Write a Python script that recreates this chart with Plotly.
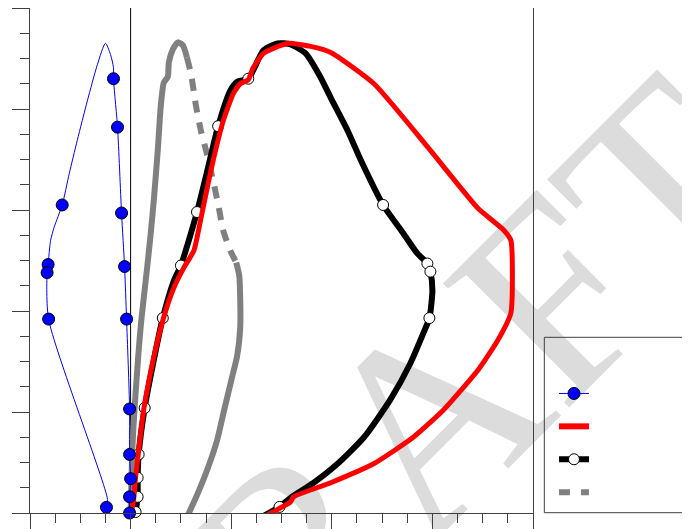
import plotly.graph_objects as go

# ---------------- data (x units, y units) ----------------
# Blue series: line path and sampled markers
blue_line_x = [-0.01, -0.01, 0.00, -0.01, -0.01, -0.04, -0.06, -0.09, -0.13, -0.17, -0.17, -0.20, -0.25,
               -0.33, -0.43, -0.53, -0.61, -0.68, -0.76, -0.795, -0.82, -0.83, -0.815, -0.23, -0.24, -0.22]
blue_line_y = [0.00, 0.16, 0.34, 0.58, 1.03, 1.92, 2.44, 2.97, 3.82, 4.30, 4.41, 4.54, 4.65,
               4.44, 4.08, 3.69, 3.36, 3.05, 2.83, 2.70, 2.46, 2.38, 1.92, 0.135, 0.056, -0.03]
blue_pts_x = [-0.01, -0.01, 0.00, -0.01, -0.01, -0.04, -0.06, -0.09, -0.13, -0.17,
              -0.68, -0.82, -0.83, -0.815, -0.24, -0.22]
blue_pts_y = [0.00, 0.16, 0.34, 0.58, 1.03, 1.92, 2.44, 2.97, 3.82, 4.30,
              3.05, 2.46, 2.38, 1.92, 0.056, -0.03]

# Red series
red_x = [0.01, 0.03, 0.05, 0.08, 0.13, 0.23, 0.33, 0.43, 0.53, 0.63, 0.70, 0.77, 0.83, 0.92, 1.02,
         1.09, 1.17, 1.22, 1.32, 1.42, 1.57, 1.79, 1.99, 2.42, 2.98, 3.45, 3.71, 3.78, 3.78, 3.65,
         3.45, 3.11, 2.81, 2.42, 1.99, 1.62, 1.59, 1.34]
red_y = [0.02, 0.13, 0.36, 0.62, 1.02, 1.54, 1.94, 2.23, 2.43, 2.60, 2.92, 3.26, 3.53, 3.88, 4.15,
         4.25, 4.29, 4.41, 4.55, 4.60, 4.65, 4.62, 4.56, 4.25, 3.59, 3.02, 2.80, 2.70, 1.98, 1.71,
         1.41, 1.02, 0.75, 0.49, 0.30, 0.16, 0.11, -0.03]

# Black series: line path and sampled markers
black_x = [0.05, 0.07, 0.07, 0.08, 0.14, 0.23, 0.32, 0.43, 0.50, 0.57, 0.66, 0.77, 0.87, 0.99, 1.06,
           1.17, 1.32, 1.46, 1.59, 1.74, 1.89, 1.99, 2.16, 2.29, 2.51, 2.71, 2.85, 2.95, 2.98, 3.00,
           2.97, 2.91, 2.78, 2.58, 2.32, 2.06, 1.82, 1.59, 1.48, 1.32]
black_y = [0.01, 0.16, 0.35, 0.58, 1.04, 1.51, 1.93, 2.30, 2.45, 2.67, 2.98, 3.42, 3.83, 4.18, 4.27,
           4.30, 4.58, 4.65, 4.64, 4.55, 4.31, 4.11, 3.78, 3.49, 3.05, 2.77, 2.57, 2.47, 2.39, 2.20,
           1.93, 1.78, 1.48, 1.12, 0.75, 0.49, 0.30, 0.15, 0.06, -0.03]
black_pts_x = [0.05, 0.07, 0.07, 0.08, 0.14, 0.32, 0.50, 0.66, 0.87, 1.17, 2.51, 2.95, 2.98, 2.97, 1.48, 1.32]
black_pts_y = [0.01, 0.16, 0.35, 0.58, 1.04, 1.93, 2.45, 2.98, 3.83, 4.30, 3.05, 2.47, 2.39, 1.93, 0.06, -0.03]

# Gray series (one path; a middle stretch is dashed)
gray_x = [0.00, 0.02, 0.05, 0.10, 0.17, 0.20, 0.23, 0.27, 0.30, 0.33, 0.37, 0.38, 0.42, 0.47, 0.52, 0.56,
          0.60, 0.65, 0.70, 0.75, 0.82, 0.87, 0.92, 0.99, 1.05,
          1.08, 1.09, 1.09, 1.06, 1.00, 0.93, 0.86, 0.77, 0.67, 0.57]
gray_y = [0.00, 0.69, 1.19, 1.84, 2.48, 2.77, 3.09, 3.59, 4.03, 4.26, 4.32, 4.46, 4.59, 4.66, 4.63, 4.51,
          4.35, 4.03, 3.78, 3.59, 3.29, 3.06, 2.80, 2.60, 2.48,
          2.35, 2.10, 1.84, 1.56, 1.31, 1.02, 0.72, 0.45, 0.20, -0.02]
gray_dash_start = 15
gray_dash_end = 24

x_range = [-1, 4]
y_range = [0, 5]

BLUE = "#0000ff"
RED = "#ff0000"
GRAY = "#808080"
AXC = "#404040"

fig = go.Figure()

# gray solid / dashed pieces
fig.add_trace(go.Scatter(x=gray_x[:gray_dash_start + 1], y=gray_y[:gray_dash_start + 1], mode="lines",
                         line=dict(color=GRAY, width=6, shape="spline", smoothing=0.6),
                         showlegend=False, hoverinfo="skip"))
fig.add_trace(go.Scatter(x=gray_x[gray_dash_start:gray_dash_end + 1], y=gray_y[gray_dash_start:gray_dash_end + 1],
                         mode="lines", line=dict(color=GRAY, width=6, shape="spline", smoothing=0.6, dash="12px,10px"),
                         showlegend=False, hoverinfo="skip"))
fig.add_trace(go.Scatter(x=gray_x[gray_dash_end:], y=gray_y[gray_dash_end:], mode="lines",
                         line=dict(color=GRAY, width=6, shape="spline", smoothing=0.6),
                         showlegend=False, hoverinfo="skip"))

# black line + white markers
fig.add_trace(go.Scatter(x=black_x, y=black_y, mode="lines",
                         line=dict(color="black", width=6, shape="spline", smoothing=0.6),
                         showlegend=False, hoverinfo="skip"))
fig.add_trace(go.Scatter(x=black_pts_x, y=black_pts_y, mode="markers", cliponaxis=False,
                         marker=dict(color="white", size=11, line=dict(color="black", width=1)),
                         showlegend=False))

# red line
fig.add_trace(go.Scatter(x=red_x, y=red_y, mode="lines",
                         line=dict(color=RED, width=5, shape="spline", smoothing=0.5),
                         showlegend=False, hoverinfo="skip"))

# blue line + markers
fig.add_trace(go.Scatter(x=blue_line_x, y=blue_line_y, mode="lines",
                         line=dict(color=BLUE, width=1, shape="spline", smoothing=0.7),
                         showlegend=False, hoverinfo="skip"))
fig.add_trace(go.Scatter(x=blue_pts_x, y=blue_pts_y, mode="markers", cliponaxis=False,
                         marker=dict(color=BLUE, size=12, line=dict(color="black", width=1)),
                         showlegend=False))

# legend entries
fig.add_trace(go.Scatter(x=[None], y=[None], mode="lines+markers", name="",
                         line=dict(color=BLUE, width=1),
                         marker=dict(color=BLUE, size=12, line=dict(color="black", width=1))))
fig.add_trace(go.Scatter(x=[None], y=[None], mode="lines", name="",
                         line=dict(color=RED, width=6)))
fig.add_trace(go.Scatter(x=[None], y=[None], mode="lines+markers", name="",
                         line=dict(color="black", width=6),
                         marker=dict(color="white", size=11, line=dict(color="black", width=1))))
fig.add_trace(go.Scatter(x=[None], y=[None], mode="lines", name="",
                         line=dict(color=GRAY, width=6, dash="11px,11px")))

axis_common = dict(showgrid=False, showline=True, mirror=True, linecolor=AXC, linewidth=1,
                   ticks="outside", tickcolor=AXC, tickwidth=1, ticklen=17, showticklabels=False,
                   zeroline=False, dtick=1, fixedrange=True)

fig.update_layout(
    width=690, height=529,
    margin=dict(l=22, r=165, t=0, b=24),
    paper_bgcolor="white", plot_bgcolor="rgba(0,0,0,0)",
    xaxis=dict(range=x_range, tick0=0, minor=dict(dtick=0.25, ticks="outside", ticklen=9, tickcolor=AXC),
               **axis_common),
    yaxis=dict(range=y_range, tick0=0, minor=dict(dtick=0.25, ticks="outside", ticklen=9, tickcolor=AXC),
               **axis_common),
    showlegend=True,
    legend=dict(x=1.0417, y=0.2792, xanchor="left", yanchor="top", bgcolor="rgba(0,0,0,0)",
                borderwidth=0, font=dict(size=23, color="black"), tracegroupgap=0),
    shapes=[
        # watermark
        dict(type="rect", xref="paper", yref="paper", x0=0.66, x1=0.76, y0=0.136, y1=0.236,
             line=dict(width=0), fillcolor="rgba(0,0,0,0)", layer="below",
             label=dict(text="DRAFT", textangle=-45, textposition="middle center",
                        font=dict(family="Liberation Serif", size=270, color="#dcdcdc"))),
        # vertical zero line
        dict(type="line", xref="x", yref="paper", x0=0, x1=0, y0=0, y1=1,
             line=dict(color="black", width=1), layer="below"),
        # legend frame
        dict(type="rect", xref="paper", yref="paper", x0=1.0225, x1=1.40, y0=0.0006, y1=0.3479,
             line=dict(color=AXC, width=1), fillcolor="rgba(0,0,0,0)"),
    ],
)

fig.write_html("out.html")
